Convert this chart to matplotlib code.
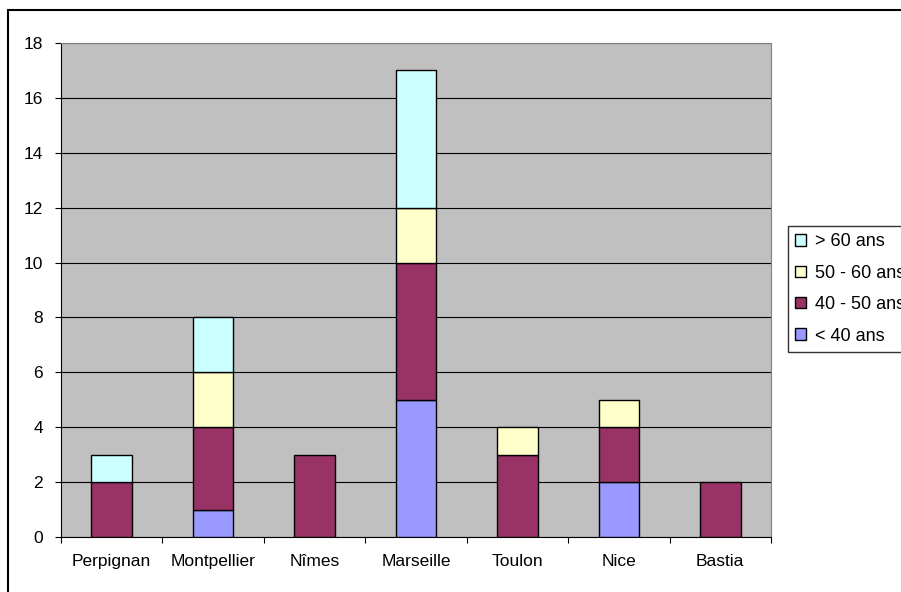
import matplotlib.pyplot as plt
import matplotlib.patches as mpatches
import numpy as np

villes = ["Perpignan", "Montpellier", "Nîmes", "Marseille", "Toulon", "Nice", "Bastia"]
moins_40 = [0, 1, 0, 5, 0, 2, 0]
de_40_50 = [2, 3, 3, 5, 3, 2, 2]
de_50_60 = [0, 2, 0, 2, 1, 1, 0]
plus_60 = [1, 2, 0, 5, 0, 0, 0]

series = [
    (moins_40, "< 40 ans", "#9999FF"),
    (de_40_50, "40 - 50 ans", "#993366"),
    (de_50_60, "50 - 60 ans", "#FFFFCC"),
    (plus_60, "> 60 ans", "#CCFFFF"),
]

W, H = 901, 592
fs = 12.5
fig = plt.figure(figsize=(W / 100, H / 100), dpi=100)
plt.rcParams['font.family'] = ['Liberation Sans', 'DejaVu Sans']

# outer chart frame (runs past right and bottom edges)
fig.patches.append(mpatches.Rectangle((8 / W, -0.1), 1.2, 1 - 10 / H + 0.1,
                                      transform=fig.transFigure, fill=False,
                                      edgecolor="black", linewidth=1.5))

ax = fig.add_axes([61 / W, 55 / H, 710 / W, 494 / H])
ax.set_facecolor("#C0C0C0")

x = np.arange(len(villes))
bottom = np.zeros(len(villes))
handles = []
for vals, label, color in series:
    vals = np.array(vals, dtype=float)
    mask = vals > 0
    ax.bar(x[mask], vals[mask], bottom=bottom[mask], width=0.4, color=color,
           edgecolor="black", linewidth=1, zorder=3)
    bottom += vals
    handles.append(mpatches.Patch(facecolor=color, edgecolor="black", linewidth=1, label=label))

ax.set_xlim(-0.5, len(villes) - 0.5)
ax.set_ylim(0, 18)
ax.set_yticks(np.arange(0, 19, 2))
ax.yaxis.grid(True, color="black", linewidth=0.8, zorder=1)
ax.set_axisbelow(True)

ax.set_xticks(np.arange(-0.5, len(villes), 1))
ax.set_xticklabels([])
ax.set_xticks(x, minor=True)
ax.set_xticklabels(villes, minor=True)
ax.tick_params(axis="x", which="minor", length=0, pad=12, labelsize=fs)
ax.tick_params(axis="x", which="major", direction="out", length=4, color="black")
ax.tick_params(axis="y", direction="out", length=4, labelsize=fs, pad=9)

for s in ["top", "right"]:
    ax.spines[s].set_color("#808080")
ax.spines["left"].set_color("black")
ax.spines["bottom"].set_color("black")

# legend is cut off at the right edge, as in the original
leg = fig.legend(handles=handles[::-1], loc="upper left",
                 bbox_to_anchor=(788 / W, 1 - 226 / H), frameon=True,
                 fancybox=False, edgecolor="black", fontsize=13,
                 handlelength=0.6, handleheight=0.6, handletextpad=0.5,
                 labelspacing=0.8, borderpad=0.4, borderaxespad=0)
leg.get_frame().set_linewidth(1)

fig.savefig("out.png", dpi=100)
